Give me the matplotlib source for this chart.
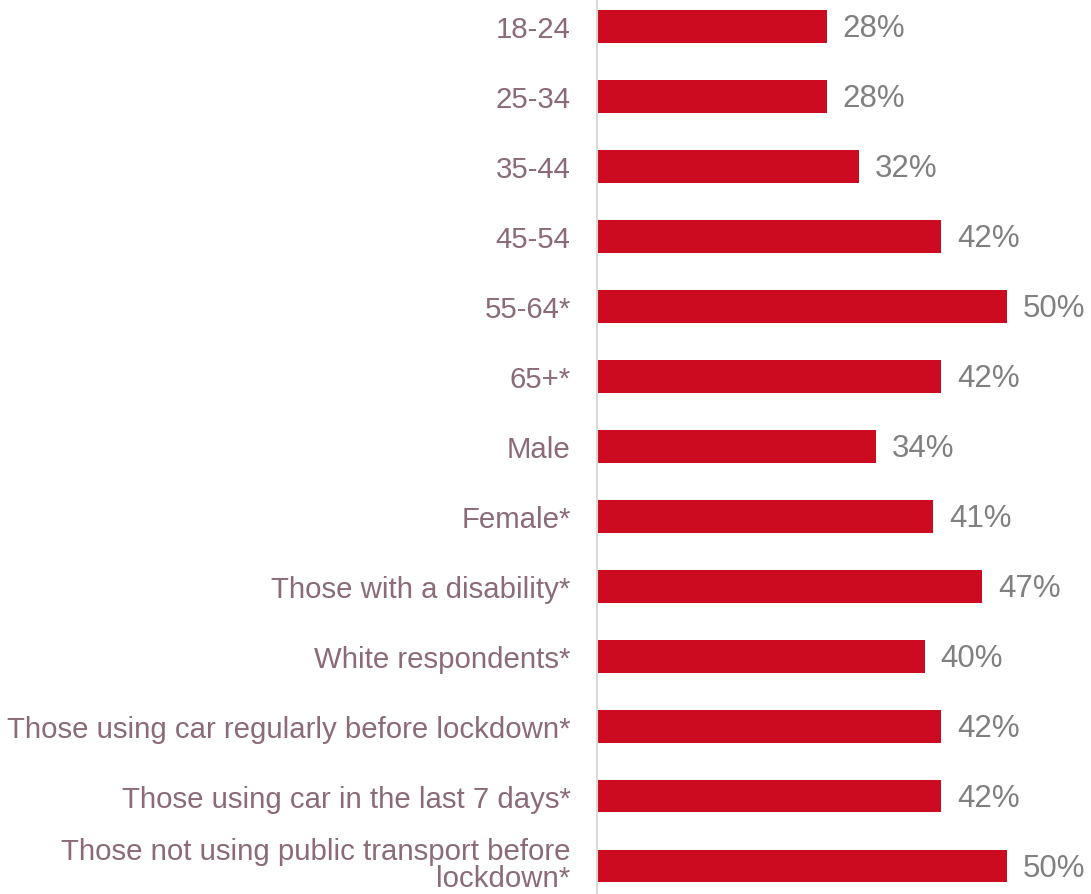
import matplotlib
matplotlib.use("Agg")
import matplotlib.pyplot as plt
import matplotlib.transforms as mtransforms

categories = [
    "18-24", "25-34", "35-44", "45-54", "55-64*", "65+*", "Male", "Female*",
    "Those with a disability*", "White respondents*",
    "Those using car regularly before lockdown*",
    "Those using car in the last 7 days*",
    "Those not using public transport before\nlockdown*",
]
values = [28, 28, 32, 42, 50, 42, 34, 41, 47, 40, 42, 42, 50]

plt.rcParams['font.family'] = ['Liberation Sans', 'DejaVu Sans']

fig = plt.figure(figsize=(10.91, 8.95), dpi=100)
ax = fig.add_axes([597 / 1091, 0, 1 - 597 / 1091, 1])

pos = list(range(len(categories)))
ax.barh(pos, values, height=0.47, color="#CC0A20", zorder=2)
ax.set_ylim(12.4, -0.39)
ax.set_xlim(0, 60.24)

for p, v in zip(pos, values):
    ax.text(v + 1.9, p + 0.03, f"{v}%", va="center", ha="left", fontsize=22.5, color="#808080")

ax.set_yticks(pos)
ax.set_yticklabels(categories, fontsize=21.2, color="#8B6B7A", linespacing=0.98)
ax.tick_params(axis="y", length=0, pad=19)
last = ax.get_yticklabels()[-1]
last.set_transform(last.get_transform() + mtransforms.ScaledTranslation(0, 3 / 72, fig.dpi_scale_trans))
ax.set_xticks([])
for s in ["top", "right", "bottom"]:
    ax.spines[s].set_visible(False)
ax.spines["left"].set_color("#D9D9D9")
ax.spines["left"].set_linewidth(1.5)
ax.patch.set_alpha(0)

fig.savefig("out.png", dpi=100)
